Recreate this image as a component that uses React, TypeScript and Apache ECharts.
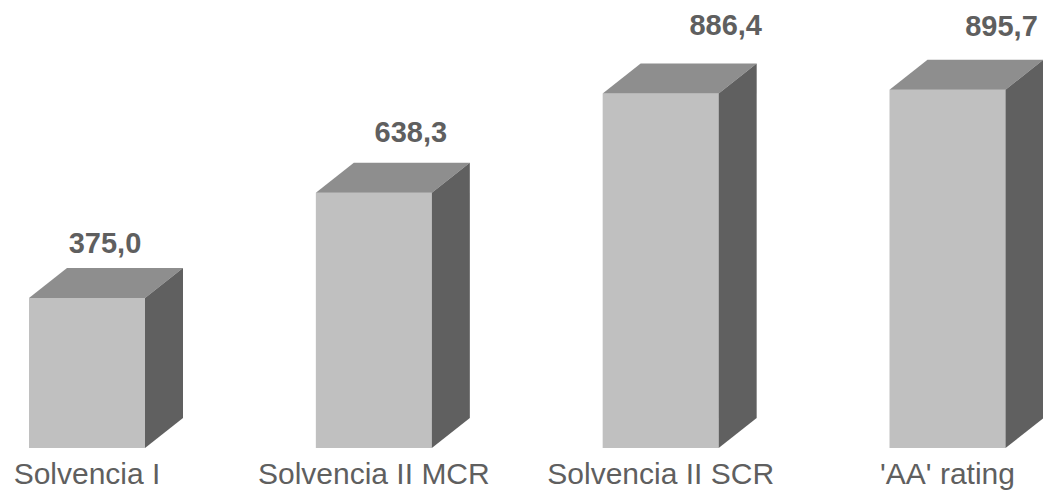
import React, { useEffect, useRef } from "react";
import * as echarts from "echarts";

const categories = ["Solvencia I", "Solvencia II MCR", "Solvencia II SCR", "'AA' rating"];
const values = [375.0, 638.3, 886.4, 895.7];

// label nudges relative to the centre of the bar's back top edge (layout only)
const labelNudge: [number, number][] = [
  [-1, -25],
  [18, -31],
  [46, -38],
  [35, -34],
];

const FRONT = "#c0c0c0";
const TOP = "#8e8e8e";
const SIDE = "#606060";
const TEXT = "#5f5f5f";
const HALF_W = 58;
const DX = 38;
const DY = 30;

const fmt = (v: number) => v.toFixed(1).replace(".", ",");

export default function App() {
  const ref = useRef<HTMLDivElement>(null);
  useEffect(() => {
    if (!ref.current) return;
    const chart = echarts.init(ref.current, undefined, { renderer: "svg" });
    chart.setOption({
      animation: false,
      backgroundColor: "#ffffff",
      grid: { left: 87, right: 95.5, top: 48, bottom: 46 },
      xAxis: {
        type: "category",
        data: categories,
        boundaryGap: false,
        axisLine: { show: false },
        axisTick: { show: false },
        splitLine: { show: false },
        axisLabel: {
          interval: 0,
          fontSize: 30,
          fontFamily: "'Liberation Sans', Arial, sans-serif",
          color: TEXT,
          margin: 10,
        },
      },
      yAxis: {
        type: "value",
        min: 0,
        max: 1000,
        show: false,
        splitLine: { show: false },
      },
      series: [
        {
          type: "custom",
          clip: false,
          encode: { x: 0, y: 1 },
          data: values.map((v, i) => [i, v]),
          renderItem: (params: any, api: any) => {
            const i = api.value(0);
            const v = api.value(1);
            const top = api.coord([i, v]);
            const base = api.coord([i, 0]);
            const cx = top[0];
            const xl = cx - HALF_W;
            const xr = cx + HALF_W;
            const yt = top[1];
            const yb = base[1];
            const nudge = labelNudge[params.dataIndex] || [0, -30];
            return {
              type: "group",
              children: [
                {
                  type: "rect",
                  shape: { x: xl, y: yt, width: xr - xl, height: yb - yt },
                  style: { fill: FRONT },
                },
                {
                  type: "polygon",
                  shape: {
                    points: [
                      [xl, yt],
                      [xl + DX, yt - DY],
                      [xr + DX, yt - DY],
                      [xr, yt],
                    ],
                  },
                  style: { fill: TOP },
                },
                {
                  type: "polygon",
                  shape: {
                    points: [
                      [xr, yt],
                      [xr + DX, yt - DY],
                      [xr + DX, yb - DY],
                      [xr, yb],
                    ],
                  },
                  style: { fill: SIDE },
                },
                {
                  type: "text",
                  style: {
                    text: fmt(v),
                    x: cx + DX / 2 + nudge[0],
                    y: yt - DY + nudge[1],
                    align: "center",
                    verticalAlign: "middle",
                    fontSize: 29,
                    fontWeight: "bold",
                    fontFamily: "'Liberation Sans', Arial, sans-serif",
                    fill: TEXT,
                  },
                },
              ],
            };
          },
        },
      ],
    });
    return () => chart.dispose();
  }, []);
  return (
    <div
      ref={ref}
      style={{ position: "absolute", left: 0, top: 0, width: 1043, height: 494 }}
    />
  );
}
